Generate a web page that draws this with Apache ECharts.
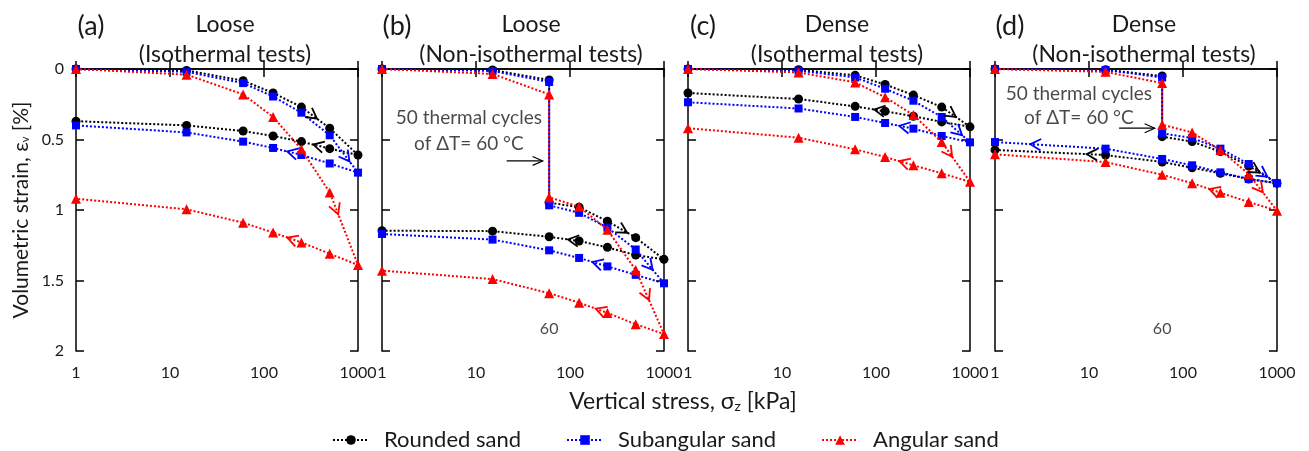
<!DOCTYPE html>
<html>
<head>
<meta charset="utf-8">
<script src="https://cdn.jsdelivr.net/npm/echarts@6/dist/echarts.min.js"></script>
<style>
html, body { margin: 0; padding: 0; background: #fff; }
#main { width: 1309px; height: 451px; }
</style>
</head>
<body>
<div id="main"></div>
<script>
// vertical stress steps [kPa]
var stressLoad = [1, 15, 60, 125, 250, 500, 1000];
var stressLoadCycled = [1, 15, 60, 60, 125, 250, 500, 1000]; // 50 cycles at 60 kPa
var stressUnload = [500, 250, 125, 60, 15, 1];
var xTicks = [1, 10, 100, 1000];
var yTicks = [0, 0.5, 1, 1.5, 2];
var names = ['Rounded sand', 'Subangular sand', 'Angular sand'];

// (a) loose, isothermal
var looseIsoRoundedLoad = [0, 0.01, 0.083, 0.17, 0.27, 0.42, 0.61];
var looseIsoRoundedUnload = [0.565, 0.515, 0.475, 0.44, 0.40, 0.37];
var looseIsoSubangLoad = [0, 0.02, 0.10, 0.195, 0.31, 0.47, 0.735];
var looseIsoSubangUnload = [0.67, 0.61, 0.56, 0.515, 0.45, 0.40];
var looseIsoAngLoad = [0, 0.04, 0.18, 0.34, 0.57, 0.875, 1.39];
var looseIsoAngUnload = [1.31, 1.23, 1.16, 1.09, 0.995, 0.92];

// (b) loose, non-isothermal
var looseCycRoundedLoad = [0, 0.007, 0.078, 0.948, 0.98, 1.08, 1.196, 1.35];
var looseCycRoundedUnload = [1.32, 1.265, 1.22, 1.19, 1.15, 1.147];
var looseCycSubangLoad = [0, 0.014, 0.092, 0.967, 1.02, 1.125, 1.28, 1.52];
var looseCycSubangUnload = [1.46, 1.40, 1.34, 1.286, 1.21, 1.17];
var looseCycAngLoad = [0, 0.035, 0.18, 0.91, 0.976, 1.14, 1.425, 1.88];
var looseCycAngUnload = [1.81, 1.73, 1.657, 1.59, 1.49, 1.43];

// (c) dense, isothermal
var denseIsoRoundedLoad = [0, 0.005, 0.045, 0.11, 0.185, 0.27, 0.41];
var denseIsoRoundedUnload = [0.375, 0.335, 0.30, 0.265, 0.213, 0.17];
var denseIsoSubangLoad = [0, 0.012, 0.06, 0.14, 0.225, 0.34, 0.52];
var denseIsoSubangUnload = [0.475, 0.423, 0.383, 0.34, 0.28, 0.236];
var denseIsoAngLoad = [0, 0.024, 0.095, 0.2, 0.326, 0.518, 0.8];
var denseIsoAngUnload = [0.74, 0.683, 0.624, 0.57, 0.487, 0.42];

// (d) dense, non-isothermal
var denseCycRoundedLoad = [0, 0.005, 0.05, 0.48, 0.515, 0.586, 0.688, 0.81];
var denseCycRoundedUnload = [0.78, 0.74, 0.70, 0.66, 0.61, 0.574];
var denseCycSubangLoad = [0, 0.007, 0.06, 0.456, 0.49, 0.565, 0.674, 0.81];
var denseCycSubangUnload = [0.78, 0.733, 0.683, 0.638, 0.565, 0.518];
var denseCycAngLoad = [0, 0.02, 0.1, 0.395, 0.45, 0.575, 0.745, 1.005];
var denseCycAngUnload = [0.943, 0.877, 0.81, 0.75, 0.66, 0.605];

// direction arrows: [segment index along the path, position on segment]
var arrowsA = [[[4, 0.55], [7, 0.58]], [[5, 0.7], [8, 0.5]], [[5, 0.3], [8, 0.5]]];
var arrowsB = [[[5, 0.7], [10, 0.37]], [[6, 0.6], [9, 0.53]], [[6, 0.47], [9, 0.41]]];
var arrowsC = [[[5, 0.5], [9, 0.36]], [[5, 0.72], [8, 0.5]], [[5, 0.37], [8, 0.5]]];
var arrowsD = [[[6, 0.38], [12, 0.17]], [[6, 0.66], [12, 0.68]], [[6, 0.5], [9, 0.39]]];

var FONT = 'Lato';
var TXT = '#1a1a1a';
var colors = ['#000000', '#0000ff', '#ff0000'];
var symbols = ['circle', 'rect', 'triangle'];
var symbolSizes = [9, 8, 10];

var panels = [
    { letter: '(a)', title: 'Loose\n(Isothermal tests)', left: 76, xLoad: stressLoad,
      load: [looseIsoRoundedLoad, looseIsoSubangLoad, looseIsoAngLoad],
      unload: [looseIsoRoundedUnload, looseIsoSubangUnload, looseIsoAngUnload], arrows: arrowsA },
    { letter: '(b)', title: 'Loose\n(Non-isothermal tests)', left: 382, xLoad: stressLoadCycled,
      load: [looseCycRoundedLoad, looseCycSubangLoad, looseCycAngLoad],
      unload: [looseCycRoundedUnload, looseCycSubangUnload, looseCycAngUnload], arrows: arrowsB,
      note: { x: 8.4, y: 0.44, lh: 26, ax1: 21.2, ax2: 51.2, ay: 0.652 } },
    { letter: '(c)', title: 'Dense\n(Isothermal tests)', left: 688, xLoad: stressLoad,
      load: [denseIsoRoundedLoad, denseIsoSubangLoad, denseIsoAngLoad],
      unload: [denseIsoRoundedUnload, denseIsoSubangUnload, denseIsoAngUnload], arrows: arrowsC },
    { letter: '(d)', title: 'Dense\n(Non-isothermal tests)', left: 995, xLoad: stressLoadCycled,
      load: [denseCycRoundedLoad, denseCycSubangLoad, denseCycAngLoad],
      unload: [denseCycRoundedUnload, denseCycSubangUnload, denseCycAngUnload], arrows: arrowsD,
      note: { x: 7.8, y: 0.263, lh: 24, ax1: 20.9, ax2: 50, ay: 0.42 } }
];

var W = 282, H = 282, TOP = 69;

function buildPath(xLoad, load, unload) {
    var pts = xLoad.map(function (x, i) { return [x, load[i]]; });
    stressUnload.forEach(function (x, i) { pts.push([x, unload[i]]); });
    return pts;
}

function renderArrow(params, api) {
    var p1 = api.coord([api.value(0), api.value(1)]);
    var p2 = api.coord([api.value(2), api.value(3)]);
    var t = api.value(4);
    var shaft = api.value(5);
    var color = api.visual('color');
    var tip = [p1[0] + (p2[0] - p1[0]) * t, p1[1] + (p2[1] - p1[1]) * t];
    var ang = Math.atan2(p2[1] - p1[1], p2[0] - p1[0]);
    var L = shaft ? 11 : 12, w = shaft ? 0.42 : 0.5;
    var a1 = [tip[0] - L * Math.cos(ang - w), tip[1] - L * Math.sin(ang - w)];
    var a2 = [tip[0] - L * Math.cos(ang + w), tip[1] - L * Math.sin(ang + w)];
    var lw = shaft ? 1.2 : 1.8;
    var children = [{
        type: 'polyline', shape: { points: [a1, tip, a2] },
        style: { stroke: color, lineWidth: lw, fill: null }
    }];
    if (shaft) {
        children.push({ type: 'line', shape: { x1: p1[0], y1: p1[1], x2: p2[0], y2: p2[1] },
            style: { stroke: color, lineWidth: lw } });
    }
    return { type: 'group', children: children };
}

var grids = [], xAxes = [], yAxes = [], series = [], titles = [];

panels.forEach(function (p, g) {
    grids.push({ left: p.left, top: TOP, width: W, height: H });
    var axisLine = { show: true, lineStyle: { color: '#000', width: 1.5 } };
    var tick = { show: true, inside: true, length: 8, lineStyle: { color: '#000', width: 1.5 } };
    xAxes.push({
        type: 'log', logBase: 10, gridIndex: g, min: xTicks[0], max: xTicks[xTicks.length - 1],
        position: 'bottom', axisLine: axisLine, axisTick: tick, splitLine: { show: false },
        axisLabel: { margin: 14, fontSize: 16, fontFamily: FONT, color: TXT,
            formatter: function (v) { return String(Math.round(v)); } }
    });
    xAxes.push({
        type: 'log', logBase: 10, gridIndex: g, min: xTicks[0], max: xTicks[xTicks.length - 1],
        position: 'top', axisLine: axisLine, axisTick: tick, splitLine: { show: false },
        axisLabel: { show: false }
    });
    yAxes.push({
        type: 'value', gridIndex: g, inverse: true, min: yTicks[0], max: yTicks[yTicks.length - 1],
        interval: yTicks[1] - yTicks[0], position: 'left', axisLine: axisLine, axisTick: tick,
        splitLine: { show: false },
        axisLabel: { show: g === 0, margin: 12, fontSize: 16, fontFamily: FONT, color: TXT },
        name: g === 0 ? 'Volumetric strain, ε{s|v} [%]' : '',
        nameLocation: 'middle', nameGap: 44, nameRotate: 90,
        nameTextStyle: { fontSize: 21, fontFamily: FONT, color: TXT,
            rich: { s: { fontSize: 11, fontFamily: FONT, color: TXT, padding: [0, 0, -8, 0] } } }
    });
    yAxes.push({
        type: 'value', gridIndex: g, inverse: true, min: yTicks[0], max: yTicks[yTicks.length - 1],
        interval: yTicks[1] - yTicks[0], position: 'right', axisLine: axisLine, axisTick: tick,
        splitLine: { show: false }, axisLabel: { show: false }
    });

    var arrowData = [];
    for (var k = 0; k < 3; k++) {
        var pts = buildPath(p.xLoad, p.load[k], p.unload[k]);
        series.push({
            name: names[k], type: 'line', xAxisIndex: 2 * g, yAxisIndex: 2 * g,
            data: pts, symbol: symbols[k], symbolSize: symbolSizes[k],
            lineStyle: { type: 'dotted', width: 2, color: colors[k] },
            itemStyle: { color: colors[k] }, z: 2 + k
        });
        p.arrows[k].forEach(function (a) {
            var s = a[0];
            arrowData.push({ value: [pts[s][0], pts[s][1], pts[s + 1][0], pts[s + 1][1], a[1], 0],
                itemStyle: { color: colors[k] } });
        });
    }
    if (p.note) {
        arrowData.push({ value: [p.note.ax1, p.note.ay, p.note.ax2, p.note.ay, 1, 1],
            itemStyle: { color: '#000' } });
        series.push({
            type: 'scatter', xAxisIndex: 2 * g, yAxisIndex: 2 * g, silent: true,
            symbolSize: 1, itemStyle: { color: 'rgba(0,0,0,0)' },
            label: { show: true, position: 'inside', formatter: '50 thermal cycles\nof ΔT= 60 °C',
                fontSize: 19, lineHeight: p.note.lh, fontFamily: FONT, color: TXT, align: 'center' },
            data: [[p.note.x, p.note.y]], z: 6
        });
        series.push({
            type: 'scatter', xAxisIndex: 2 * g, yAxisIndex: 2 * g, silent: true,
            symbolSize: 1, itemStyle: { color: 'rgba(0,0,0,0)' },
            label: { show: true, position: 'inside', formatter: '60',
                fontSize: 16, fontFamily: FONT, color: TXT },
            data: [[60, 1.84]], z: 6
        });
    }
    series.push({
        type: 'custom', xAxisIndex: 2 * g, yAxisIndex: 2 * g, silent: true,
        renderItem: renderArrow, encode: { x: [0, 2], y: [1, 3] },
        data: arrowData, z: 7
    });

    var cx = p.left + W / 2 + 3;
    titles.push({ text: p.title, left: cx, top: 5, textAlign: 'center',
        textStyle: { fontSize: 23, fontWeight: 'normal', fontFamily: FONT, color: TXT, lineHeight: 30 } });
    titles.push({ text: p.letter, left: p.left + 10, top: 8, textAlign: 'center',
        textStyle: { fontSize: 27, fontWeight: 'normal', fontFamily: FONT, color: TXT } });
});

titles.push({ text: 'Vertical stress, σ{s|z} [kPa]', left: 678, top: 385, textAlign: 'center',
    textStyle: { fontSize: 23, fontWeight: 'normal', fontFamily: FONT, color: TXT,
        rich: { s: { fontSize: 14, fontFamily: FONT, color: TXT, padding: [9, 0, 0, 0] } } } });

var myChart = echarts.init(document.getElementById('main'));
myChart.setOption({
    animation: false,
    backgroundColor: '#fff',
    title: titles,
    legend: {
        data: names, left: 327, top: 424, itemWidth: 36, itemHeight: 12, itemGap: 45,
        textStyle: { fontSize: 22, fontFamily: FONT, color: TXT, padding: [0, 0, 0, 10] }
    },
    grid: grids,
    xAxis: xAxes,
    yAxis: yAxes,
    series: series
});
</script>
</body>
</html>
